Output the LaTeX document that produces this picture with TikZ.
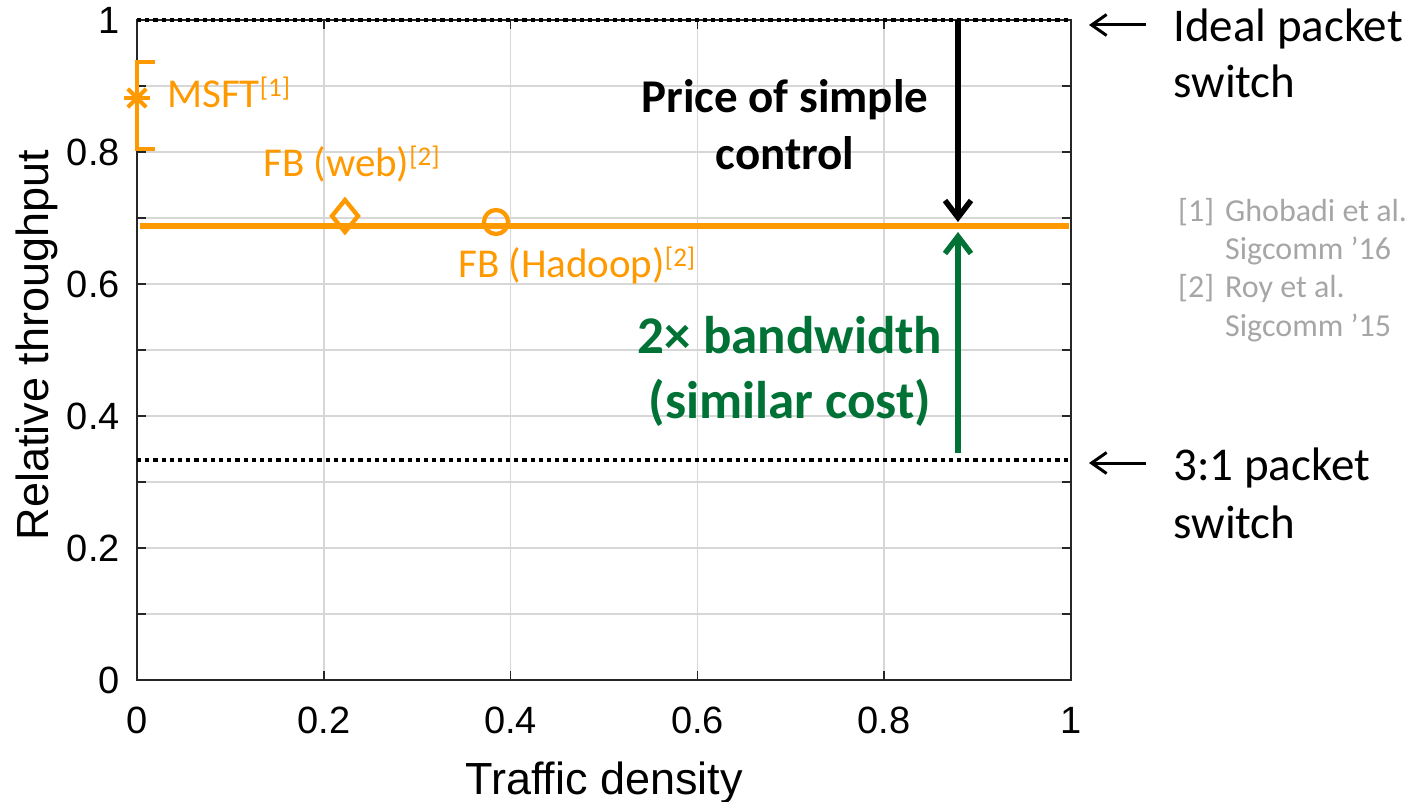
\documentclass[tikz,border=0pt]{standalone}
\usepackage{fontspec}
\setmainfont{Carlito}
\newfontfamily\axisfont{Liberation Sans}
\usetikzlibrary{arrows.meta}

\definecolor{plotorange}{RGB}{255,153,0}
\definecolor{notegreen}{RGB}{0,114,54}
\definecolor{refgray}{RGB}{166,166,166}
\definecolor{gridgray}{RGB}{215,215,215}
\definecolor{axisdark}{RGB}{38,38,38}

\newcommand{\citemark}[1]{\raisebox{11pt}{\fontsize{27}{27}\selectfont[#1]}}

\tikzset{
  gridline/.style={draw=gridgray, line width=1.5pt},
  axisline/.style={draw=axisdark, line width=2pt},
  tickline/.style={draw=axisdark, line width=1.5pt},
  refline/.style={draw=black, line width=4.6pt, dash pattern=on 4.2pt off 4pt},
  ticklabel/.style={inner sep=0pt, font=\axisfont\fontsize{38}{38}\selectfont},
  axislabel/.style={inner sep=0pt, font=\axisfont\fontsize{45}{45}\selectfont},
  serieslabel/.style={inner sep=0pt, anchor=base west, text=plotorange, font=\fontsize{41}{41}\selectfont},
  sidelabel/.style={inner sep=0pt, anchor=base west, font=\fontsize{47}{47}\selectfont},
  reflabel/.style={inner sep=0pt, anchor=base west, text=refgray, font=\fontsize{32}{32}\selectfont},
  pricelabel/.style={inner sep=0pt, anchor=base, font=\bfseries\fontsize{47}{47}\selectfont},
  bwlabel/.style={inner sep=0pt, anchor=base, text=notegreen, font=\bfseries\fontsize{53}{53}\selectfont},
  bigarrow/.style={line width=5.5pt, -{Straight Barb[length=17pt,width=26pt]}},
  pointer/.style={line width=3pt, -{Straight Barb[length=15pt,width=21pt]}},
  marker/.style={draw=plotorange, line width=4.3pt},
}

\begin{document}
\begin{tikzpicture}[x=1pt, y=-1pt]
\useasboundingbox (0,0) rectangle (1419,802);

% ---- axes, grid and ticks in data coordinates ----
\begin{scope}[shift={(137,680)}, x=934pt, y=660pt]
  \foreach \v in {1,...,9}
    \draw[gridline] (0,\v/10) -- (1,\v/10);
  \foreach \v in {2,4,6,8}
    \draw[gridline] (\v/10,0) -- (\v/10,1);
  \foreach \v in {1,...,9} {
    \draw[tickline] (0,\v/10) -- ++(9pt,0);
    \draw[tickline] (1,\v/10) -- ++(-9pt,0);
  }
  \foreach \v in {2,4,6,8} {
    \draw[tickline] (\v/10,0) -- ++(0,9pt);
    \draw[tickline] (\v/10,1) -- ++(0,-9pt);
  }
  \draw[axisline] (0,0) rectangle (1,1);

  % tick labels
  \foreach \v/\t in {0/0, 0.2/0.2, 0.4/0.4, 0.6/0.6, 0.8/0.8, 1/1} {
    \node[ticklabel, anchor=east] (yl\t) at ([xshift=-17pt]0,\v) {\t};
    \node[ticklabel, anchor=north] (xl\t) at ([yshift=-27pt]\v,0) {\t};
  }

  % reference levels
  \draw[refline] (0,1) -- (1,1);
  \draw[refline] (0,1/3) -- (1,1/3);

  % fitted level
  \draw[draw=plotorange, line width=5.2pt] (0.003,0.688) -- (0.998,0.688);
\end{scope}

% ---- axis titles ----
\node[axislabel, anchor=base] (xtitle) at (604,794) {Traffic density};
\node[axislabel, anchor=base, rotate=90] (ytitle) at (48,345) {Relative throughput};

% ---- data points ----
% MSFT range bracket and point
\draw[draw=plotorange, line width=4.5pt] (155,62) -- (137,62) -- (137,149) -- (155,149);
\foreach \a in {0,45,90,135}
  \draw[draw=plotorange, line width=4pt] (137,98) ++(\a:13) -- ++(\a+180:26);
% FB (web) diamond
\draw[marker] (345,200) -- (358,216) -- (345,232) -- (332,216) -- cycle;
% FB (Hadoop) circle
\draw[marker] (496,222) circle[radius=12];

\node[serieslabel] (msft) at (167,108) {MSFT\citemark{1}};
\node[serieslabel] (fbweb) at (263,177) {FB (web)\citemark{2}};
\node[serieslabel] (fbhadoop) at (458,278) {FB (Hadoop)\citemark{2}};

% ---- annotations ----
\coordinate (idealTop) at (958,20);
\coordinate (gapTop) at (958,222);
\coordinate (gapBottom) at (958,232);
\coordinate (lowLevel) at (958,453);
\draw[bigarrow, draw=black] (idealTop) -- (gapTop);
\draw[bigarrow, draw=notegreen] (lowLevel) -- (gapBottom);

\node[pricelabel] (price1) at (785,113) {Price of simple};
\node[pricelabel] (price2) at (785,170) {control};
\node[bwlabel] (bw1) at (790,353) {2× bandwidth};
\node[bwlabel] (bw2) at (790,418) {(similar cost)};

% ---- side labels ----
\node[sidelabel] (ideal1) at (1173,42) {Ideal packet};
\node[sidelabel] (ideal2) at (1173,98) {switch};
\node[sidelabel] (over1) at (1173,480) {3:1 packet};
\node[sidelabel] (over2) at (1173,538) {switch};
\coordinate (idealTail) at (1146,25);
\coordinate (idealHead) at (1089,25);
\coordinate (overTail) at (1146,463);
\coordinate (overHead) at (1089,463);
\draw[pointer] (idealTail) -- (idealHead);
\draw[pointer] (overTail) -- (overHead);

% ---- references ----
\node[reflabel] (r1) at (1178,222) {[1]};
\node[reflabel] (r1a) at (1225,222) {Ghobadi et al.};
\node[reflabel] (r1b) at (1225,260) {Sigcomm ’16};
\node[reflabel] (r2) at (1178,298) {[2]};
\node[reflabel] (r2a) at (1225,298) {Roy et al.};
\node[reflabel] (r2b) at (1225,337) {Sigcomm ’15};
\end{tikzpicture}
\end{document}
